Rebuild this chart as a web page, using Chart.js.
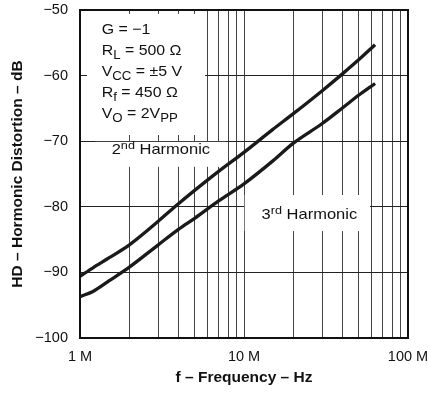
<!DOCTYPE html>
<html><head><meta charset="utf-8">
<script src="https://cdn.jsdelivr.net/npm/chart.js@4.4.1/dist/chart.umd.min.js"></script>
<style>html,body{margin:0;padding:0;background:#fff}#wrap{width:429px;height:399px}</style>
</head><body><div id="wrap"><canvas id="c" width="429" height="399"></canvas></div>
<script>
// ---- data (frequency in MHz, distortion in dB) ----
const freqMHz = [1, 1.2, 1.5, 2, 3, 4, 5, 7, 10, 15, 20, 30, 40, 50, 63];
const hd2nd  = [-90.6, -89.3, -87.8, -85.8, -82.2, -79.5, -77.5, -74.6, -71.7, -68.2, -65.8, -62.3, -59.7, -57.6, -55.3];
const hd3rd  = [-93.7, -92.9, -91.3, -89.2, -85.8, -83.4, -81.75, -79.1, -76.5, -73.0, -70.3, -67.3, -64.9, -63.0, -61.2];
const xGridValues = [1,2,3,4,5,6,7,8,9,10,20,30,40,50,60,70,80,90,100];
const xTickLabels = {1: '1 M', 10: '10 M', 100: '100 M'};
const yTickValues = [-100, -90, -80, -70, -60, -50];
const yTickLabels = ['−100', '−90', '−80', '−70', '−60', '−50'];
const xTitle = 'f – Frequency – Hz';
const yTitle = 'HD – Hormonic Distortion – dB';
const conditionLines = [
  [['G = −1', 'n']],
  [['R', 'n'], ['L', 'sub'], [' = 500 Ω', 'n']],
  [['V', 'n'], ['CC', 'sub'], [' = ±5 V', 'n']],
  [['R', 'n'], ['f', 'sub'], [' = 450 Ω', 'n']],
  [['V', 'n'], ['O', 'sub'], [' = 2V', 'n'], ['PP', 'sub']]
];
const label2nd = [['2', 'n'], ['nd', 'sup'], [' Harmonic', 'n']];
const label3rd = [['3', 'n'], ['rd', 'sup'], [' Harmonic', 'n']];

const FONT = '"Liberation Sans", Arial, Helvetica, sans-serif';

function drawRich(ctx, x, y, parts, stretch) {
  ctx.save();
  ctx.translate(x, y);
  ctx.scale(stretch, 1);
  let cx = 0;
  for (const [t, kind] of parts) {
    let size = 15, dy = 0;
    if (kind === 'sub') { size = 12.5; dy = 4; }
    if (kind === 'sup') { size = 11.5; dy = -5; }
    ctx.font = size + 'px ' + FONT;
    ctx.fillText(t, cx, dy);
    cx += ctx.measureText(t).width;
  }
  ctx.restore();
}

const annotPlugin = {
  id: 'annot',
  beforeDatasetsDraw(chart) {
    const ctx = chart.ctx, xs = chart.scales.x, ys = chart.scales.y;
    const X = v => xs.getPixelForValue(v), Y = v => ys.getPixelForValue(v);
    ctx.save();
    ctx.fillStyle = '#fff';
    const rect = (x0, x1, y0, y1) => ctx.fillRect(X(x0), Y(y0), X(x1) - X(x0), Y(y1) - Y(y0));
    rect(1.103, 5.79, -50.6, -69.05);
    rect(1.234, 7.77, -70.1, -73.9);
    rect(10.1, 58.6, -78.2, -83.7);
    ctx.fillStyle = '#111';
    ctx.textBaseline = 'alphabetic';
    ctx.textAlign = 'left';
    const tx = X(1.356);
    let by = Y(-53.66);
    for (const line of conditionLines) {
      drawRich(ctx, tx, by, line, 1.06);
      by += 21;
    }
    drawRich(ctx, X(1.56), Y(-72.0), label2nd, 1.1);
    drawRich(ctx, X(12.8), Y(-81.9), label3rd, 1.1);
    ctx.restore();
  },
  afterDraw(chart) {
    const {left, top, right, bottom} = chart.chartArea;
    const ctx = chart.ctx;
    ctx.save();
    ctx.strokeStyle = '#111';
    ctx.lineWidth = 2;
    ctx.strokeRect(left, top, right - left, bottom - top);
    ctx.restore();
  }
};

new Chart(document.getElementById('c'), {
  type: 'line',
  data: {
    datasets: [
      { label: '2nd Harmonic', data: freqMHz.map((f, i) => ({x: f, y: hd2nd[i]})) },
      { label: '3rd Harmonic', data: freqMHz.map((f, i) => ({x: f, y: hd3rd[i]})) }
    ]
  },
  options: {
    responsive: false,
    animation: false,
    devicePixelRatio: 1,
    layout: { padding: { top: 10, right: 21, left: 0, bottom: 0 } },
    elements: {
      line: { borderColor: '#1a1a1a', borderWidth: 3.3, cubicInterpolationMode: 'monotone', fill: false },
      point: { radius: 0 }
    },
    plugins: { legend: { display: false }, tooltip: { enabled: false } },
    scales: {
      x: {
        type: 'logarithmic',
        min: 1, max: 100,
        afterBuildTicks: s => { s.ticks = xGridValues.map(v => ({value: v})); },
        afterFit: s => { s.height = 61; },
        ticks: {
          autoSkip: false, maxRotation: 0, minRotation: 0, padding: 0,
          color: '#111', font: { family: FONT, size: 14.5 },
          callback: v => xTickLabels[v] || ''
        },
        grid: { color: '#444', lineWidth: 1, drawTicks: true, tickLength: 10, tickColor: 'rgba(0,0,0,0)' },
        border: { display: true, color: '#111', width: 2 },
        title: { display: true, text: xTitle, color: '#111',
          font: { family: FONT, size: 15.5, weight: 'bold' }, padding: { top: 0, bottom: 12 } }
      },
      y: {
        type: 'linear',
        min: -100, max: -50,
        afterBuildTicks: s => { s.ticks = yTickValues.map(v => ({value: v})); },
        afterFit: s => { s.width = 80; },
        ticks: {
          padding: 0, color: '#111', font: { family: FONT, size: 14.5, lineHeight: 1.2 },
          callback: v => yTickLabels[yTickValues.indexOf(v)]
        },
        grid: { color: '#222', lineWidth: 1, drawTicks: true, tickLength: 12, tickColor: 'rgba(0,0,0,0)' },
        border: { display: true, color: '#111', width: 2 },
        title: { display: true, text: yTitle, color: '#111',
          font: { family: FONT, size: 15.5, weight: 'bold' }, padding: { top: 8.5, bottom: 0 } }
      }
    }
  },
  plugins: [annotPlugin]
});
</script>
</body></html>
